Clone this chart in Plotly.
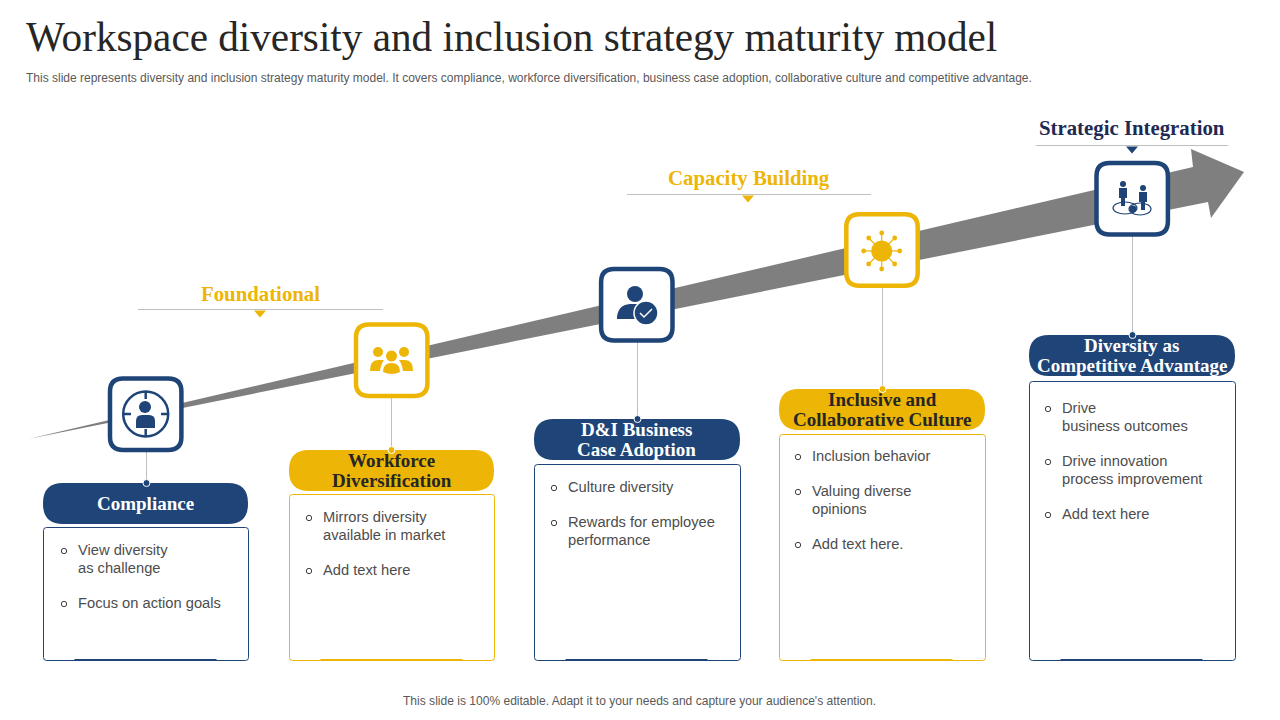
import plotly.graph_objects as go

# -----------------------------
# Text content
# -----------------------------
title = "Workspace diversity and inclusion strategy maturity model"
subtitle = ("This slide represents diversity and inclusion strategy maturity model. It covers compliance, "
            "workforce diversification, business case adoption, collaborative culture and competitive advantage.")
footer = "This slide is 100% editable. Adapt it to your needs and capture your audience's attention."

stage_titles = [["Compliance"],
                ["Workforce", "Diversification"],
                ["D&amp;I Business", "Case Adoption"],
                ["Inclusive and", "Collaborative Culture"],
                ["Diversity as", "Competitive Advantage"]]
stage_bullets = [[["View diversity", "as challenge"], ["Focus on action goals"]],
                 [["Mirrors diversity", "available in market"], ["Add text here"]],
                 [["Culture diversity"], ["Rewards for employee", "performance"]],
                 [["Inclusion behavior"], ["Valuing diverse", "opinions"], ["Add text here."]],
                 [["Drive", "business outcomes"], ["Drive innovation", "process improvement"], ["Add text here"]]]
level_names = ["Foundational", "Capacity Building", "Strategic Integration"]

# -----------------------------
# Layout (slide pixels)
# -----------------------------
NAVY = "#1f4477"
GOLD = "#edb506"
GREY = "#7f7f7f"
RULE = "#bfbfbf"
WHITE = "#ffffff"

stage_colors = [NAVY, GOLD, NAVY, GOLD, NAVY]
box_left = [43.5, 289.5, 534.5, 779.5, 1029.5]
box_right = [248.5, 494.5, 740.5, 985.5, 1235.5]
box_top = [527.5, 494.5, 464.5, 434.5, 381.5]
pill_top = [483, 450, 419, 389, 335]
icon_x = [145.7, 391.7, 636.8, 882, 1132.2]
icon_y = [414.2, 360.3, 304.8, 250, 198.8]
connector_x = [146.5, 391.5, 637.5, 882.5, 1132.5]
text_x = [78, 323, 568, 812, 1062]
first_line_y = [550, 517, 487, 456, 408]

level_x = [260, 749, 1132]
level_y = [293, 178, 128]
rule_y = [309.5, 194.5, 145.5]
rule_left = [138, 627, 1036]
rule_right = [383, 871, 1228]
level_colors = [GOLD, GOLD, "#1f2a52"]
marker_colors = [GOLD, GOLD, NAVY]

shapes = []


def path(d, fill=None, line=None, width=0):
    shapes.append(dict(type="path", path=d, fillcolor=fill or "rgba(0,0,0,0)",
                       line=dict(color=line or "rgba(0,0,0,0)", width=width)))


def circle(cx, cy, r, fill=None, line=None, width=0, ry=None):
    ry = ry or r
    shapes.append(dict(type="circle", x0=cx - r, x1=cx + r, y0=cy - ry, y1=cy + ry,
                       fillcolor=fill or "rgba(0,0,0,0)",
                       line=dict(color=line or "rgba(0,0,0,0)", width=width)))


def segment(x0, y0, x1, y1, color, width=1):
    shapes.append(dict(type="line", x0=x0, y0=y0, x1=x1, y1=y1, line=dict(color=color, width=width)))


def round_rect(x0, y0, x1, y1, r):
    return (f"M{x0 + r},{y0} L{x1 - r},{y0} Q{x1},{y0} {x1},{y0 + r} L{x1},{y1 - r} Q{x1},{y1} {x1 - r},{y1} "
            f"L{x0 + r},{y1} Q{x0},{y1} {x0},{y1 - r} L{x0},{y0 + r} Q{x0},{y0} {x0 + r},{y0} Z")


def text(x, y, s, size, color, family="Liberation Sans", anchor="center", bold=False):
    s = f"<b>{s}</b>" if bold else s
    # annotations carry about 2px of padding on the anchored side
    x = x - 2 if anchor == "left" else x
    return dict(x=x, y=y, text=s, showarrow=False, xanchor=anchor, yanchor="middle",
                font=dict(family=family, size=size, color=color))


annotations = []

# -----------------------------
# Big rising arrow behind the icons
# -----------------------------
path("M28,439 L1193,167 L1191,149 L1244,172 L1211,218 L1208,202 Z", fill=GREY)

# -----------------------------
# Stage columns
# -----------------------------
for i in range(5):
    c = stage_colors[i]
    x0 = box_left[i]
    x1 = box_right[i]
    cx = icon_x[i]
    cy = icon_y[i]

    # connector, pill and text box
    segment(connector_x[i], cy + 36, connector_x[i], pill_top[i], RULE, 1)
    path(round_rect(x0 - 0.5, pill_top[i], x1 - 0.5, pill_top[i] + 41, 20), fill=c)
    circle(connector_x[i], pill_top[i], 3.5, fill=c, line=WHITE, width=1)
    path(round_rect(x0, box_top[i], x1, 660.5, 3), fill=WHITE, line=c, width=1)
    segment(x0 + 31, 660, x0 + 173, 660, c, 2)

    # icon frame
    path(round_rect(cx - 35.7, cy - 35.7, cx + 35.7, cy + 35.7, 13), fill=WHITE, line=c, width=4.5)

    # pill caption
    lines = stage_titles[i]
    caption_color = WHITE if c == NAVY else "#262626"
    for j, line in enumerate(lines):
        ty = pill_top[i] + 20.5 + (j - (len(lines) - 1) / 2) * 20
        annotations.append(text(cx, ty, line, 19, caption_color, "Liberation Serif", bold=True))

    # bullets
    y = first_line_y[i]
    for bullet in stage_bullets[i]:
        circle(text_x[i] - 14, y + 1, 2.7, line="#404040", width=1)
        for line in bullet:
            annotations.append(text(text_x[i], y, line, 14.7, "#4d4d4d", anchor="left"))
            y += 18
        y += 17

# -----------------------------
# Level headings
# -----------------------------
for i in range(3):
    annotations.append(text(level_x[i], level_y[i], level_names[i], 20.8, level_colors[i],
                            "Liberation Serif", bold=True))
    segment(rule_left[i], rule_y[i], rule_right[i], rule_y[i], RULE, 1)
    m = level_x[i]
    m = m - 1 if i == 1 else m
    path(f"M{m - 6},{rule_y[i] + 1} L{m + 6},{rule_y[i] + 1} L{m},{rule_y[i] + 8} Z", fill=marker_colors[i])

# -----------------------------
# Icons
# -----------------------------
# 1. person in a target
circle(145.7, 414, 22.5, line=NAVY, width=2.5)
for x0, y0, x1, y1 in [(145.7, 391, 145.7, 399), (145.7, 429, 145.7, 437), (123, 414, 131, 414), (161, 414, 169, 414)]:
    segment(x0, y0, x1, y1, NAVY, 2.5)
circle(145, 407, 6, fill=NAVY)
path("M136,428 L136,421 Q136,415 142,415 L149,415 Q155,415 155,421 L155,428 Z", fill=NAVY)

# 2. three people
for cx, r in [(378, 5), (404, 5), (391.5, 5.5)]:
    circle(cx, 352 if r == 5 else 356, r, fill=GOLD)
path("M370,371 Q370,360 378,360 L384,360 Q381,364 380,371 Z", fill=GOLD)
path("M413,371 Q413,360 405,360 L399,360 Q402,364 403,371 Z", fill=GOLD)
path("M383,372 Q383,363 391.5,363 Q400,363 400,372 Q392,376 383,372 Z", fill=GOLD)

# 3. person with a check badge
circle(635, 294, 8, fill=NAVY)
path("M617,319 Q617,305 630,304 L640,304 L648,319 Z", fill=NAVY)
circle(646, 313, 12, fill=NAVY, line=WHITE, width=1.5)
path("M640,313 L644,317 L652,309", line=WHITE, width=1.5)

# 4. hub with spokes
hub_x = [0, 13, 18, 13, 0, -13, -18, -13]
hub_y = [-18, -13, 0, 13, 18, 13, 0, -13]
for dx, dy in zip(hub_x, hub_y):
    segment(881.7, 251, 881.7 + dx, 251 + dy, GOLD, 1.2)
    circle(881.7 + dx, 251 + dy, 2.4, fill=GOLD)
circle(881.7, 251, 10.5, fill=GOLD)

# 5. two people on linked circles
circle(1125, 208, 12, line=NAVY, width=1.2, ry=6)
circle(1140, 209, 11, line=NAVY, width=1.2, ry=6)
circle(1133, 209, 3.5, fill=NAVY)
for cx, top in [(1123, 181), (1143, 185)]:
    circle(cx, top + 3, 3, fill=NAVY)
    path(f"M{cx - 4},{top + 7} L{cx + 4},{top + 7} L{cx + 4},{top + 17} L{cx + 2},{top + 17} L{cx + 2},{top + 25} "
         f"L{cx - 2},{top + 25} L{cx - 2},{top + 17} L{cx - 4},{top + 17} Z", fill=NAVY)

# -----------------------------
# Header and footer
# -----------------------------
annotations.append(text(26, 37, title, 41.2, "#262626", "Liberation Serif", anchor="left"))
annotations.append(text(26, 78, subtitle, 12, "#595959", anchor="left"))
annotations.append(text(639, 701, footer, 12.05, "#595959"))

fig = go.Figure()
fig.update_layout(width=1280, height=720, margin=dict(l=0, r=0, t=0, b=0),
                  paper_bgcolor=WHITE, plot_bgcolor=WHITE, showlegend=False,
                  xaxis=dict(range=[0, 1280], visible=False, fixedrange=True),
                  yaxis=dict(range=[720, 0], visible=False, fixedrange=True),
                  shapes=shapes, annotations=annotations)
fig.write_html("out.html", config={"displayModeBar": False}, post_script="document.body.style.margin='0';")
